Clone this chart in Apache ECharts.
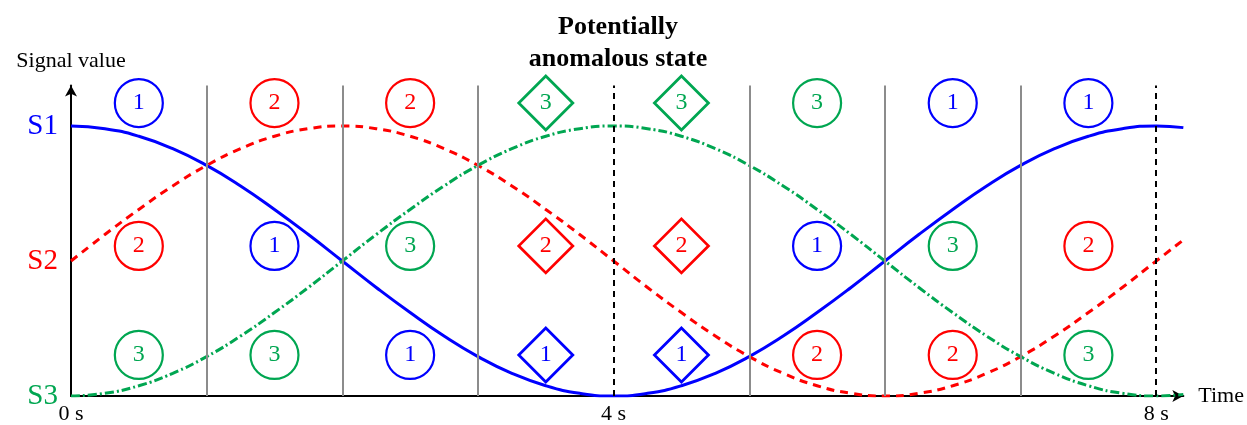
<!DOCTYPE html>
<html>
<head>
<meta charset="utf-8">
<script src="https://cdn.jsdelivr.net/npm/echarts@6/dist/echarts.min.js"></script>
<style>
  html, body { margin: 0; padding: 0; background: #fff; }
  #chart { width: 1247px; height: 425px; }
</style>
</head>
<body>
<div id="chart"></div>
<script>
// time samples (s)
const times = [0, 0.25, 0.5, 0.75, 1, 1.25, 1.5, 1.75, 2, 2.25, 2.5, 2.75, 3, 3.25, 3.5, 3.75, 4,
  4.25, 4.5, 4.75, 5, 5.25, 5.5, 5.75, 6, 6.25, 6.5, 6.75, 7, 7.25, 7.5, 7.75, 8, 8.2];
// signal curves (0 = S3 level, 0.5 = S2, 1 = S1)
const s1Values = [1, 0.99, 0.962, 0.916, 0.854, 0.778, 0.691, 0.598, 0.5, 0.402, 0.309, 0.222, 0.146, 0.084, 0.038, 0.01, 0,
  0.01, 0.038, 0.084, 0.146, 0.222, 0.309, 0.402, 0.5, 0.598, 0.691, 0.778, 0.854, 0.916, 0.962, 0.99, 1, 0.994];
const s2Values = [0.5, 0.598, 0.691, 0.778, 0.854, 0.916, 0.962, 0.99, 1, 0.99, 0.962, 0.916, 0.854, 0.778, 0.691, 0.598, 0.5,
  0.402, 0.309, 0.222, 0.146, 0.084, 0.038, 0.01, 0, 0.01, 0.038, 0.084, 0.146, 0.222, 0.309, 0.402, 0.5, 0.578];
const s3Values = [0, 0.01, 0.038, 0.084, 0.146, 0.222, 0.309, 0.402, 0.5, 0.598, 0.691, 0.778, 0.854, 0.916, 0.962, 0.99, 1,
  0.99, 0.962, 0.916, 0.854, 0.778, 0.691, 0.598, 0.5, 0.402, 0.309, 0.222, 0.146, 0.084, 0.038, 0.01, 0, 0.006];

// ranking markers per time slot
const slotCenters = [0.5, 1.5, 2.5, 3.5, 4.5, 5.5, 6.5, 7.5];
const rowLevels = [1.085, 0.556, 0.152];
const topRow = [1, 2, 2, 3, 3, 3, 1, 1];
const midRow = [2, 1, 3, 2, 2, 1, 3, 2];
const lowRow = [3, 3, 1, 1, 1, 2, 2, 3];
const anomalousSlots = [3.5, 4.5];

const slotLines = [1, 2, 3, 5, 6, 7];
const dashedLines = [4, 8];
const xTicks = [0, 4, 8];

const colors = { 1: "#0000ff", 2: "#ff0000", 3: "#00a651" };
const FONT = "Liberation Serif";

var myChart = echarts.init(document.getElementById("chart"));

const markerData = [];
[topRow, midRow, lowRow].forEach((row, r) => {
  row.forEach((n, i) => {
    const t = slotCenters[i];
    const diamond = anomalousSlots.indexOf(t) >= 0;
    markerData.push({
      value: [t, rowLevels[r]],
      symbol: diamond ? "diamond" : "circle",
      symbolSize: diamond ? [54, 54] : [48, 48],
      itemStyle: { color: "#fff", borderColor: colors[n], borderWidth: diamond ? 2.8 : 2.2, opacity: 1 },
      label: { formatter: String(n), color: colors[n] },
    });
  });
});

const vlines = slotLines
  .map((x) => ({ xAxis: x, lineStyle: { color: "#8c8c8c", width: 2, type: "solid" } }))
  .concat(dashedLines.map((x) => ({ xAxis: x, lineStyle: { color: "#000", width: 2, type: [6, 5] } })));

var option = {
  animation: false,
  title: {
    text: "Potentially\nanomalous state",
    left: 613,
    top: 6,
    textAlign: "center",
    textStyle: { fontFamily: FONT, fontWeight: "bold", fontSize: 26, lineHeight: 32, color: "#000" },
  },
  grid: { left: 71, right: 62, top: 85.5, bottom: 29 },
  xAxis: {
    type: "value",
    min: 0,
    max: 8.2,
    interval: 4,
    name: "Time",
    nameLocation: "end",
    nameGap: 15,
    nameTextStyle: { fontFamily: FONT, fontSize: 22, color: "#000" },
    axisLine: { lineStyle: { color: "#000", width: 2 }, symbol: ["none", "arrow"], symbolSize: [9, 11] },
    axisTick: { show: false },
    splitLine: { show: false },
    axisLabel: {
      margin: 7,
      fontFamily: FONT,
      fontSize: 22,
      color: "#000",
      showMaxLabel: false,
      formatter: (v) => (xTicks.indexOf(v) >= 0 ? v + " s" : ""),
    },
  },
  yAxis: {
    type: "value",
    min: 0,
    max: 1.15,
    interval: 0.5,
    name: "Signal value",
    nameLocation: "end",
    nameGap: 13,
    nameTextStyle: { fontFamily: FONT, fontSize: 22, color: "#000", align: "center" },
    axisLine: { show: true, lineStyle: { color: "#000", width: 2 }, symbol: ["none", "arrow"], symbolSize: [9, 11] },
    axisTick: { show: false },
    splitLine: { show: false },
    axisLabel: {
      margin: 13,
      showMaxLabel: false,
      formatter: (v) => (v === 1 ? "{a|S1}" : v === 0.5 ? "{b|S2}" : v === 0 ? "{c|S3}" : ""),
      rich: {
        a: { fontFamily: FONT, fontSize: 29, color: colors[1] },
        b: { fontFamily: FONT, fontSize: 29, color: colors[2] },
        c: { fontFamily: FONT, fontSize: 29, color: colors[3] },
      },
    },
  },
  series: [
    {
      type: "line",
      data: [],
      z: 1,
      markLine: { silent: true, symbol: "none", label: { show: false }, data: vlines },
    },
    {
      name: "S1",
      type: "line",
      smooth: true,
      showSymbol: false,
      z: 3,
      data: times.map((t, i) => [t, s1Values[i]]),
      lineStyle: { color: colors[1], width: 3 },
    },
    {
      name: "S2",
      type: "line",
      smooth: true,
      showSymbol: false,
      z: 3,
      data: times.map((t, i) => [t, s2Values[i]]),
      lineStyle: { color: colors[2], width: 3, type: [8, 6] },
    },
    {
      name: "S3",
      type: "line",
      smooth: true,
      showSymbol: false,
      z: 3,
      data: times.map((t, i) => [t, s3Values[i]]),
      lineStyle: { color: colors[3], width: 3, type: [9, 3, 2, 3] },
    },
    {
      type: "scatter",
      z: 5,
      data: markerData,
      label: { show: true, position: "inside", fontFamily: FONT, fontSize: 24 },
    },
  ],
};

option && myChart.setOption(option);
</script>
</body>
</html>
